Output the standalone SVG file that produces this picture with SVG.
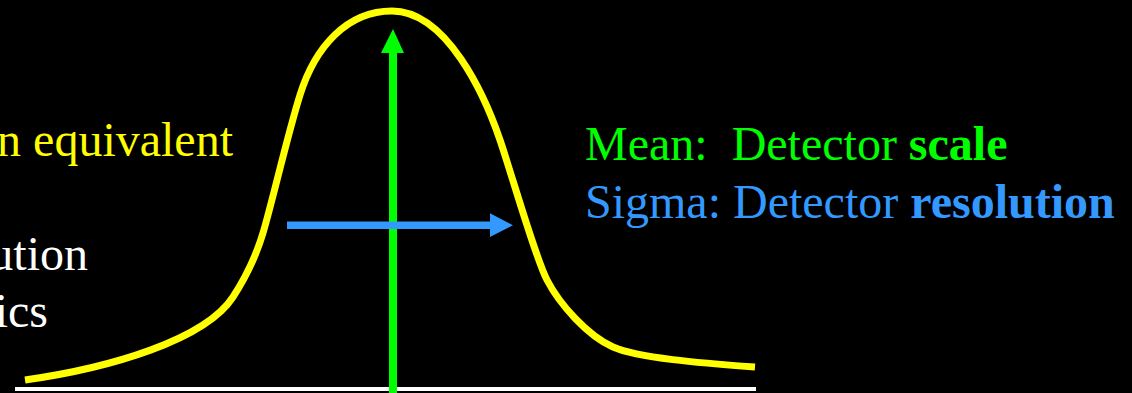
<svg xmlns="http://www.w3.org/2000/svg" width="1132" height="393" viewBox="0 0 1132 393">
  <style>
    .t { font-family: "Liberation Serif", "Times New Roman", serif; font-size: 48px; white-space: pre; }
    .yel { fill: #FFFF00; }
    .wht { fill: #FFFFFF; }
    .grn { fill: #00FF00; }
    .blu { fill: #3399FF; }
    .b { font-weight: bold; }
  </style>
  <rect x="0" y="0" width="1132" height="393" fill="#000000"/>

  <g id="left-text">
    <text class="t yel" x="233" y="156" text-anchor="end">n equivalent</text>
    <text class="t wht" x="88" y="270" text-anchor="end">ution</text>
    <text class="t wht" x="48" y="327" text-anchor="end">ics</text>
  </g>

  <g id="baseline">
    <rect x="15" y="387" width="741" height="4" fill="#FFFFFF"/>
  </g>

  <g id="gaussian">
    <path fill="none" stroke="#FFFF00" stroke-width="7" stroke-linecap="butt" stroke-linejoin="round"
      d="M25,380 C110,368 205,340 233,297 C245,278.5 257,253 263,233 C272,203 288,133 300,95 C315,47 347,11 392,11 C447,11 485,96 500,140 C512,175 535,257 547,280 C560,305 588,336 613,347 C638,358 700,363 755,367"/>
  </g>

  <g id="connectors">
    <g id="mean-arrow">
      <rect x="389" y="52" width="8" height="341" fill="#00FF00"/>
      <polygon points="393,29 404,53 381,53" fill="#00FF00"/>
    </g>
    <g id="sigma-arrow">
      <rect x="287" y="221.5" width="204" height="7.5" fill="#3399FF"/>
      <polygon points="513,225.3 490,213.3 490,237" fill="#3399FF"/>
    </g>
  </g>

  <g id="right-text">
    <text class="t grn" x="585" y="160">Mean:  Detector <tspan class="b">scale</tspan></text>
    <text class="t blu" x="585" y="218">Sigma: Detector <tspan class="b">resolution</tspan></text>
  </g>
</svg>
